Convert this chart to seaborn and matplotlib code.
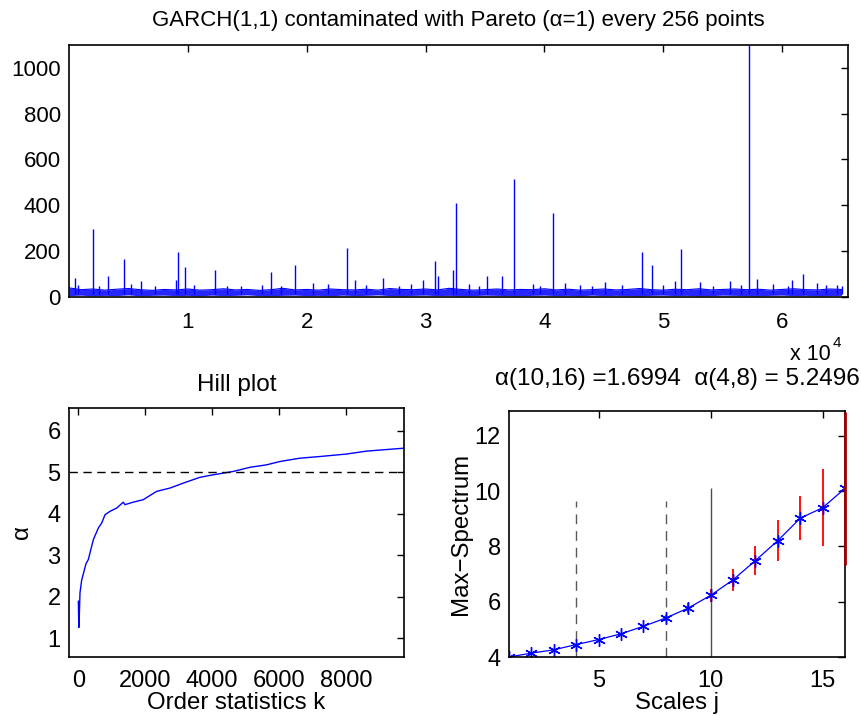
import numpy as np
import matplotlib
matplotlib.use('Agg')
import matplotlib.pyplot as plt
import pandas as pd
import seaborn as sns

# top panel: GARCH series
# big spikes: position (x 10^4 samples) and height
spike_pos = [0.051, 0.200, 0.330, 0.460, 0.609, 0.898, 0.921, 0.977, 1.228, 1.702,
             1.898, 2.051, 2.181, 2.335, 2.405, 2.642, 2.977, 3.079, 3.102, 3.233,
             3.256, 3.367, 3.521, 3.642, 3.744, 4.074, 4.177, 4.512, 4.819, 4.902,
             5.098, 5.153, 5.312, 5.558, 5.721, 5.786, 6.079, 6.177, 6.293, 6.465,
             0.08, 0.25, 0.52, 0.72, 1.05, 1.33, 1.45, 1.62, 1.78, 2.50,
             2.78, 2.88, 3.45, 3.90, 3.96, 4.30, 4.40, 4.65, 5.00, 5.42,
             5.65, 5.92, 6.05, 6.37, 6.50]
spike_val = [79, 296, 90, 165, 70, 73, 196, 127, 118, 108,
             139, 58, 55, 213, 73, 82, 73, 156, 88, 117,
             410, 57, 88, 90, 515, 364, 60, 65, 193, 139,
             68, 206, 64, 68, 1150, 77, 73, 100, 60, 51,
             52, 45, 55, 48, 50, 44, 47, 52, 46, 49,
             45, 53, 48, 55, 47, 50, 46, 52, 49, 45,
             51, 56, 47, 50, 44]
# dense noise band: upper / lower envelope every 1000 samples
band_hi = [38, 30, 33, 28, 32, 35, 30, 27, 31, 29, 33, 28, 30, 34, 29, 31, 27, 30, 36, 29,
           31, 28, 33, 30, 29, 32, 28, 35, 31, 30, 33, 29, 36, 31, 28, 30, 33, 29, 31, 30,
           34, 29, 32, 28, 30, 33, 29, 31, 35, 30, 28, 32, 30, 34, 29, 31, 33, 30, 32, 28,
           31, 34, 30, 29, 33, 31]
band_lo = [4, 6, 3, 5, 4, 7, 3, 5, 6, 4, 5, 3, 6, 4, 5, 7, 4, 3, 5, 6,
           4, 5, 3, 6, 4, 5, 7, 4, 3, 5, 6, 4, 5, 3, 4, 6, 5, 4, 3, 5,
           6, 4, 5, 3, 6, 4, 5, 4, 3, 5, 6, 4, 5, 3, 4, 6, 5, 4, 3, 5,
           6, 4, 5, 3, 4, 5]

# Hill plot
hill_k = [1, 15, 30, 50, 100, 230, 300, 450, 600, 700, 800, 950, 1150, 1345, 1395,
          1640, 1940, 2340, 2740, 3140, 3640, 4035, 4630, 5130, 5630, 6030, 6625,
          7220, 8020, 8620, 9715]
hill_a = [1.9, 1.26, 1.55, 2.1, 2.4, 2.8, 2.9, 3.38, 3.66, 3.78, 3.98, 4.06, 4.14,
          4.28, 4.22, 4.28, 4.34, 4.54, 4.62, 4.74, 4.88, 4.94, 5.02, 5.12, 5.18,
          5.26, 5.34, 5.38, 5.44, 5.51, 5.58]

# max-spectrum
scales = list(range(1, 17))
maxspec = [4.0, 4.14, 4.26, 4.45, 4.63, 4.84, 5.11, 5.41, 5.77, 6.23, 6.79, 7.49,
           8.21, 9.02, 9.40, 10.10]
err_j = [8, 9, 10, 11, 12, 13, 14, 15]
err_half = [0.1, 0.18, 0.24, 0.41, 0.53, 0.73, 0.80, 1.40]
err16 = 2.77

sns.set_style('white')
plt.rcParams['font.family'] = ['Liberation Sans', 'DejaVu Sans']
plt.rcParams['font.size'] = 16
plt.rcParams['axes.linewidth'] = 1.2
plt.rcParams['text.color'] = 'black'
plt.rcParams['axes.labelcolor'] = 'black'

fig = plt.figure(figsize=(8.62, 7.16), dpi=100)
ax1 = fig.add_axes([0.0800, 0.5852, 0.9037, 0.3520])
ax2 = fig.add_axes([0.0800, 0.0824, 0.3886, 0.3478])
ax3 = fig.add_axes([0.5905, 0.0824, 0.3898, 0.3436])

for ax in (ax1, ax2, ax3):
    ax.tick_params(direction='in', length=5, width=1, top=True, right=True,
                   labelsize=16, pad=6, colors='black')
    for s in ax.spines.values():
        s.set_color('black')
for ax in (ax2, ax3):
    ax.tick_params(labelsize=17)
    ax.tick_params(axis='x', pad=9)
ax1.tick_params(axis='x', pad=11)

# --- top: series ---
blue = '#0000ff'
xs = np.arange(len(band_hi)) * 1000
ax1.fill_between(xs, band_lo, band_hi, color=blue, alpha=0.85, lw=0)
ax1.plot(xs, band_hi, color=blue, lw=0.8)
sp = pd.DataFrame({'pos': np.array(spike_pos) * 1e4, 'val': spike_val})
ax1.vlines(sp['pos'], 10, sp['val'], color=blue, lw=1.0)
ax1.set_xlim(0, 65536)
ax1.set_ylim(-2, 1100)
ax1.set_xticks([10000, 20000, 30000, 40000, 50000, 60000])
ax1.set_xticklabels(['1', '2', '3', '4', '5', '6'])
ax1.set_yticks([0, 200, 400, 600, 800, 1000])
ax1.set_title('GARCH(1,1) contaminated with Pareto (\u03b1=1) every 256 points',
              fontsize=16, pad=14)
fig.text(0.940, 0.4975, 'x 10', fontsize=15.5, ha='center', va='baseline')
fig.text(0.966, 0.516, '4', fontsize=11, ha='left', va='baseline')

# --- Hill plot ---
hill = pd.DataFrame({'k': hill_k, 'alpha': hill_a})
sns.lineplot(data=hill, x='k', y='alpha', ax=ax2, color=blue, lw=1.0)
ax2.axhline(5, color='black', ls=(0, (6, 4)), lw=1.0)
ax2.set_xlim(-280, 9740)
ax2.set_ylim(0.55, 6.55)
ax2.set_xticks([0, 2000, 4000, 6000, 8000])
ax2.set_yticks([1, 2, 3, 4, 5, 6])
ax2.set_title('Hill plot', fontsize=17.5, pad=12)
ax2.set_xlabel('Order statistics k', fontsize=17.3, labelpad=0)
ax2.set_ylabel('\u03b1', fontsize=17.3, labelpad=10)

# --- max-spectrum ---
ms = pd.DataFrame({'j': scales, 'y': maxspec})
ax3.vlines([4, 8], 4, 9.65, color='0.35', ls=(0, (7, 5)), lw=1.0)
ax3.vlines([10], 4, 10.1, color='0.3', lw=1.0)
ey = np.array([maxspec[j - 1] for j in err_j])
ax3.vlines(err_j, ey - np.array(err_half), ey + np.array(err_half), color='red', lw=1.3)
ax3.vlines([16], maxspec[15] - err16, maxspec[15] + err16, color='#a00000', lw=2.0,
           zorder=3, clip_on=False)
sns.lineplot(data=ms, x='j', y='y', ax=ax3, color=blue, lw=0.9,
             marker=(6, 2, 0), markersize=9, markeredgecolor=blue, markeredgewidth=1.0)
ax3.set_xlim(1, 16)
ax3.set_ylim(4, 12.9)
ax3.set_xticks([5, 10, 15])
ax3.set_yticks([4, 6, 8, 10, 12])
ax3.set_title('\u03b1(10,16) =1.6994  \u03b1(4,8) = 5.2496', fontsize=17.5, pad=19)
ax3.set_xlabel('Scales j', fontsize=17.3, labelpad=0)
ax3.set_ylabel('Max\u2212Spectrum', fontsize=17.3, labelpad=2)

fig.savefig('out.png', dpi=100, facecolor='white')
